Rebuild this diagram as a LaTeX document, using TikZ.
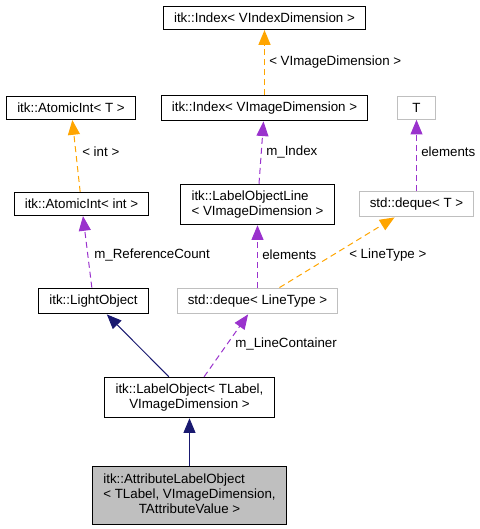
\documentclass[tikz,border=0pt]{standalone}
\usepackage{fontspec}
\setmainfont{Liberation Sans}
\usetikzlibrary{arrows.meta}
\definecolor{inheritblue}{HTML}{191970}
\definecolor{usepurple}{HTML}{9A32CD}
\definecolor{tmplorange}{HTML}{FFA500}
\definecolor{ghostgrey}{HTML}{BFBFBF}
\tikzset{
  cls/.style={draw=black, line width=0.8pt, inner xsep=8pt, inner ysep=5pt, font=\fontsize{10}{11}\selectfont},
  extcls/.style={cls, draw=ghostgrey},
  thiscls/.style={cls, fill=ghostgrey},
  lbl/.style={anchor=west, inner sep=0pt, font=\fontsize{10}{11}\selectfont},
  inherit/.style={draw=inheritblue, line width=0.75pt, -{Triangle[length=11pt,width=9pt,fill=inheritblue]}},
  uses/.style={draw=usepurple, line width=0.75pt, dash pattern=on 4.5pt off 3pt, -{Triangle[length=11pt,width=9pt,fill=usepurple]}},
  instof/.style={draw=tmplorange, line width=0.75pt, dash pattern=on 4.5pt off 3pt, -{Triangle[length=11pt,width=9pt,fill=tmplorange]}}
}

\begin{document}
\begin{tikzpicture}[x=0.75pt, y=-0.75pt]
  \useasboundingbox (0,0) rectangle (479,529);
  \node[cls] (idxvindex) at (264.5,18) {itk::Index< VIndexDimension >};
  \node[cls] (atomict) at (71,108) {itk::AtomicInt< T >};
  \node[cls] (idxvimage) at (264.5,108) {itk::Index< VImageDimension >};
  \node[extcls, minimum width=29pt] (tparam) at (416.5,108) {T};
  \node[cls] (atomicint) at (81.5,204) {itk::AtomicInt< int >};
  \node[cls, align=left] (lineobj) at (257.5,204.5) {itk::LabelObjectLine\\< VImageDimension >};
  \node[extcls] (dequet) at (416.5,204) {std::deque< T >};
  \node[cls] (lightobj) at (93.5,301) {itk::LightObject};
  \node[extcls] (dequeline) at (257.5,301) {std::deque< LineType >};
  \node[cls, align=center] (labelobj) at (189.5,397.5) {itk::LabelObject< TLabel,\\VImageDimension >};
  \node[thiscls] (attrobj) at (189.5,495.5) {\begin{tabular}{@{}l@{}}itk::AttributeLabelObject\\< TLabel, VImageDimension,\\\multicolumn{1}{@{}c@{}}{TAttributeValue >}\end{tabular}};

  \node[lbl] (lvimage) at (269,62) {< VImageDimension >};
  \node[lbl] (lint) at (82,152) {< int >};
  \node[lbl] (lmindex) at (266,152) {m\_Index};
  \node[lbl] (lelemt) at (421,152) {elements};
  \node[lbl] (lrefcount) at (94,255) {m\_ReferenceCount};
  \node[lbl] (lelem) at (262,255) {elements};
  \node[lbl] (llinetype) at (349,255) {< LineType >};
  \node[lbl] (llinecont) at (235,344) {m\_LineContainer};

  \draw[instof] (idxvimage) -- (idxvindex);
  \draw[instof] (atomicint) -- (atomict);
  \draw[uses] (lineobj) -- (idxvimage);
  \draw[uses] (dequet) -- (tparam);
  \draw[uses] (lightobj) -- (atomicint);
  \draw[uses] (dequeline) -- (lineobj);
  \draw[instof] (dequeline) -- (dequet);
  \draw[inherit] (labelobj) -- (lightobj);
  \draw[uses] (labelobj) -- (dequeline);
  \draw[inherit] (attrobj) -- (labelobj);
\end{tikzpicture}
\end{document}
